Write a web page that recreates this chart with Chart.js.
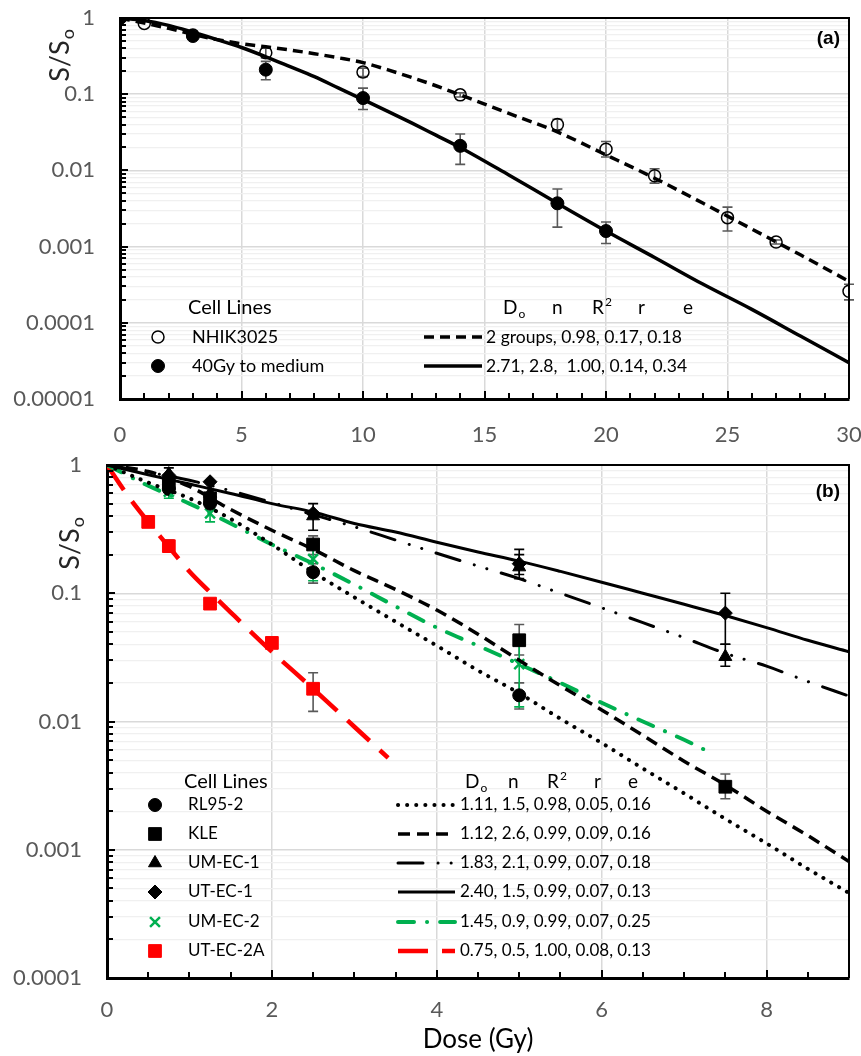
<!DOCTYPE html>
<html>
<head>
<meta charset="utf-8">
<script src="https://cdn.jsdelivr.net/npm/chart.js@4.4.0/dist/chart.umd.min.js"></script>
<style>
  html, body { margin: 0; padding: 0; background: #fff; }
  canvas { display: block; }
</style>
</head>
<body>
<canvas id="chartA" width="861" height="455"></canvas>
<canvas id="chartB" width="861" height="601"></canvas>
<script>
const FONT = 'Lato, "Open Sans", sans-serif'

// ---------- panel (a)
const A_X_TICKS = [0, 5, 10, 15, 20, 25, 30]
const A_Y_TICKS = [1, 0.1, 0.01, 0.001, 0.0001, 0.00001]
const A_Y_LABELS = ['1', '0.1', '0.01', '0.001', '0.0001', '0.00001']

const A_SERIES = ['NHIK3025', '40Gy to medium']
const A_PARAMS = ['2 groups, 0.98, 0.17, 0.18', '2.71, 2.8,  1.00, 0.14, 0.34']

const A_NHIK_DOSE = [0, 1, 3, 6, 10, 14, 18, 20, 22, 25, 27, 30]
const A_NHIK_SF = [1, 0.85, 0.6, 0.35, 0.195, 0.098, 0.04, 0.019, 0.0085, 0.0024, 0.00115, 0.00026]
const A_NHIK_LO = [null, null, null, 0.3, 0.17, 0.092, 0.034, 0.015, 0.0068, 0.0016, 0.00108, 0.0002]
const A_NHIK_HI = [null, null, null, 0.4, 0.22, 0.104, 0.047, 0.024, 0.0105, 0.0033, 0.00122, 0.00032]

const A_MED_DOSE = [0, 3, 6, 10, 14, 18, 20]
const A_MED_SF = [1, 0.58, 0.21, 0.089, 0.021, 0.0037, 0.0016]
const A_MED_LO = [null, 0.54, 0.155, 0.063, 0.012, 0.0018, 0.0011]
const A_MED_HI = [null, 0.63, 0.27, 0.12, 0.03, 0.0057, 0.0021]

const A_FIT_DOSE = [0, 1, 2, 3, 4, 5, 6, 7, 8, 9, 10, 11, 12, 13, 14, 16, 18, 20, 22, 24, 26, 28, 30]
const A_FIT_NHIK = [1, 0.86, 0.73, 0.61, 0.52, 0.46, 0.42, 0.38, 0.34, 0.3, 0.26, 0.21, 0.166, 0.129, 0.098,
  0.056, 0.032, 0.016, 0.0079, 0.0037, 0.0017, 0.00078, 0.00035]
const A_FIT_MED = [1, 0.93, 0.8, 0.65, 0.52, 0.41, 0.31, 0.23, 0.17, 0.12, 0.085, 0.06, 0.042, 0.029, 0.02,
  0.0087, 0.0037, 0.0016, 0.00072, 0.00032, 0.00015, 0.000067, 0.00003]

// ---------- panel (b)
const B_X_TICKS = [0, 2, 4, 6, 8]
const B_Y_TICKS = [1, 0.1, 0.01, 0.001, 0.0001]
const B_Y_LABELS = ['1', '0.1', '0.01', '0.001', '0.0001']

const B_SERIES = ['RL95-2', 'KLE', 'UM-EC-1', 'UT-EC-1', 'UM-EC-2', 'UT-EC-2A']
const B_PARAMS = [
  '1.11, 1.5, 0.98, 0.05, 0.16',
  '1.12, 2.6, 0.99, 0.09, 0.16',
  '1.83, 2.1, 0.99, 0.07, 0.18',
  '2.40, 1.5, 0.99, 0.07, 0.13',
  '1.45, 0.9, 0.99, 0.07, 0.25',
  '0.75, 0.5, 1.00, 0.08, 0.13',
]

const B_RL_DOSE = [0, 0.75, 1.25, 2.5, 5]
const B_RL_SF = [1, 0.65, 0.5, 0.146, 0.016]
const B_RL_LO = [null, null, null, 0.12, 0.0125]
const B_RL_HI = [null, null, null, 0.17, 0.02]

const B_KLE_DOSE = [0, 0.75, 1.25, 2.5, 5, 7.5]
const B_KLE_SF = [1, 0.72, 0.55, 0.24, 0.043, 0.0031]
const B_KLE_LO = [null, null, null, 0.2, 0.033, 0.0025]
const B_KLE_HI = [null, null, null, 0.28, 0.057, 0.0039]

const B_UM1_DOSE = [0, 0.75, 1.25, 2.5, 5, 7.5]
const B_UM1_SF = [1, 0.85, 0.6, 0.4, 0.16, 0.032]
const B_UM1_LO = [null, 0.75, null, 0.31, 0.13, 0.027]
const B_UM1_HI = [null, 0.95, null, 0.5, 0.22, 0.04]

const B_UT1_DOSE = [0, 0.75, 1.25, 2.5, 5, 7.5]
const B_UT1_SF = [1, 0.83, 0.74, 0.42, 0.17, 0.07]
const B_UT1_LO = [null, null, null, null, 0.14, 0.04]
const B_UT1_HI = [null, null, null, null, 0.2, 0.1]

const B_UM2_DOSE = [0, 0.75, 1.25, 2.5, 5]
const B_UM2_SF = [1, 0.62, 0.42, 0.185, 0.028]
const B_UM2_LO = [null, 0.55, 0.36, 0.125, 0.013]
const B_UM2_HI = [null, 0.7, 0.5, 0.26, 0.043]

const B_UT2_DOSE = [0, 0.5, 0.75, 1.25, 2, 2.5]
const B_UT2_SF = [1, 0.36, 0.233, 0.083, 0.041, 0.018]
const B_UT2_LO = [null, 0.33, 0.21, 0.075, 0.038, 0.012]
const B_UT2_HI = [null, 0.39, 0.26, 0.09, 0.044, 0.024]

const B_FIT_DOSE = [0, 0.5, 1, 1.5, 2, 2.5, 3, 3.5, 4, 4.5, 5, 5.5, 6, 6.5, 7, 7.5, 8, 8.5, 9]
const B_FIT_RL = [1, 0.73, 0.55, 0.38, 0.24, 0.146, 0.093, 0.06, 0.039, 0.025, 0.0166, 0.0105, 0.0068,
  0.0043, 0.00275, 0.00174, 0.00112, 0.00071, 0.00046]
const B_FIT_KLE = [1, 0.89, 0.68, 0.45, 0.31, 0.22, 0.15, 0.107, 0.074, 0.048, 0.03, 0.019, 0.0123,
  0.0078, 0.0049, 0.0032, 0.002, 0.00129, 0.00081]
const B_FIT_UM1 = [1, 0.88, 0.76, 0.63, 0.51, 0.41, 0.33, 0.26, 0.205, 0.163, 0.13, 0.1, 0.077,
  0.059, 0.045, 0.034, 0.027, 0.0205, 0.0158]
const B_FIT_UT1 = [1, 0.84, 0.71, 0.6, 0.5, 0.43, 0.35, 0.3, 0.25, 0.21, 0.178, 0.148, 0.122,
  0.1, 0.082, 0.067, 0.054, 0.043, 0.035]
const B_FIT_UM2_DOSE = [0, 0.5, 1, 1.5, 2, 2.5, 3, 3.5, 4, 4.5, 5, 5.5, 6, 6.5, 7, 7.35]
const B_FIT_UM2 = [1, 0.69, 0.5, 0.35, 0.24, 0.17, 0.117, 0.079, 0.054, 0.039, 0.028, 0.02, 0.014,
  0.01, 0.0072, 0.0056]
const B_FIT_UT2_DOSE = [0, 0.25, 0.5, 0.75, 1, 1.25, 1.5, 2, 2.5, 3, 3.41]
const B_FIT_UT2 = [1, 0.58, 0.36, 0.23, 0.148, 0.102, 0.071, 0.035, 0.018, 0.0091, 0.0052]

// ---------- helpers
const pts = (xs, ys) => xs.map((x, i) => ({x, y: ys[i]}))
const isDecade = v => Math.abs(Math.log10(v) - Math.round(Math.log10(v))) < 1e-6

function logTicks(min, max) {
  const out = []
  for (let e = Math.round(Math.log10(min)); e <= Math.round(Math.log10(max)); e++) {
    for (let m = 1; m <= 9; m++) {
      const v = m * Math.pow(10, e)
      if (v > max * 1.0001) break
      out.push(v)
    }
  }
  return out
}

function fitLine(data, color, width, dash, cap) {
  return {
    data, showLine: true, pointRadius: 0, pointHoverRadius: 0,
    borderColor: color, borderWidth: width, borderDash: dash || [],
    borderCapStyle: cap || 'butt', cubicInterpolationMode: 'monotone', fill: false,
  }
}

function marker(data, style, radius, fill, stroke, bw, lo, hi, errColor) {
  return {
    data, showLine: false, pointStyle: style, pointRadius: radius, pointHoverRadius: radius,
    pointBackgroundColor: fill, pointBorderColor: stroke, pointBorderWidth: bw,
    backgroundColor: fill, borderColor: stroke, errLo: lo, errHi: hi, errColor: errColor || '#595959',
  }
}

// keep the plot area where the layout padding puts it
const noOverhang = ax => { ax.paddingTop = 0; ax.paddingBottom = 0; ax.paddingLeft = 0; ax.paddingRight = 0 }

function scales(xMax, xTicks, yMin, yTicks, yLabels, yWidth, xHeight, xPad) {
  return {
    x: {
      type: 'linear', min: 0, max: xMax,
      afterBuildTicks: ax => { ax.ticks = xTicks.map(v => ({value: v})) },
      afterFit: ax => { ax.height = xHeight; noOverhang(ax) },
      ticks: {autoSkip: false, maxRotation: 0, padding: xPad, color: '#595959', font: {family: FONT, size: 22}},
      grid: {drawTicks: false, color: '#d9d9d9', lineWidth: 1.5},
      border: {color: '#000', width: 3},
    },
    y: {
      type: 'logarithmic', min: yMin, max: 1,
      afterBuildTicks: ax => { ax.ticks = logTicks(yMin, 1).map(v => ({value: v})) },
      afterFit: ax => { ax.width = yWidth; noOverhang(ax) },
      ticks: {
        autoSkip: false, padding: 25, color: '#595959', font: {family: FONT, size: 22},
        callback: v => {
          const i = yTicks.findIndex(t => Math.abs(Math.log10(t) - Math.log10(v)) < 1e-6)
          return i >= 0 ? yLabels[i] : ''
        },
      },
      grid: {
        drawTicks: false,
        color: c => (isDecade(c.tick.value) ? '#d9d9d9' : '#f0f0f0'),
        lineWidth: c => (isDecade(c.tick.value) ? 1.5 : 1.2),
      },
      border: {color: '#000', width: 3},
    },
  }
}

// error bars drawn with the chart's own scales
const errorBars = {
  id: 'errorBars',
  beforeDatasetsDraw(chart) {
    const {ctx, scales: {x, y}} = chart
    chart.data.datasets.forEach(ds => {
      if (!ds.errLo) return
      ctx.save()
      ctx.strokeStyle = ds.errColor
      ctx.lineWidth = 1.6
      ds.data.forEach((p, i) => {
        const lo = ds.errLo[i], hi = ds.errHi[i]
        if (lo == null) return
        const px = x.getPixelForValue(p.x)
        const y1 = y.getPixelForValue(lo), y2 = y.getPixelForValue(hi)
        ctx.beginPath()
        ctx.moveTo(px, y1); ctx.lineTo(px, y2)
        ctx.moveTo(px - 5, y1); ctx.lineTo(px + 5, y1)
        ctx.moveTo(px - 5, y2); ctx.lineTo(px + 5, y2)
        ctx.stroke()
      })
      ctx.restore()
    })
  },
}

function textWithScript(ctx, x, y, base, script, size, sup) {
  ctx.font = `${size}px ${FONT}`
  ctx.fillText(base, x, y)
  const w = ctx.measureText(base).width
  ctx.font = `${Math.round(size * 0.65)}px ${FONT}`
  ctx.fillText(script, x + w + 1, sup ? y - size * 0.32 : y + size * 0.3)
}

function decor(cfg) {
  return {
    id: 'decor',
    afterDraw(chart) {
      const {ctx, chartArea: a, scales: {x, y}} = chart
      const H = Chart.helpers
      ctx.save()
      // frame top/right
      ctx.strokeStyle = '#000'
      ctx.lineWidth = 2
      ctx.beginPath()
      ctx.moveTo(a.left, a.top); ctx.lineTo(a.right, a.top); ctx.lineTo(a.right, a.bottom)
      ctx.stroke()
      // inward tick marks
      ctx.lineWidth = 2
      ctx.beginPath()
      y.ticks.forEach(t => {
        const py = Math.round(y.getPixelForValue(t.value))
        ctx.moveTo(a.left, py); ctx.lineTo(a.left + (isDecade(t.value) ? 8 : 6), py)
      })
      for (let v = 0; v <= x.max + 1e-9; v += cfg.xMinor) {
        const px = Math.round(x.getPixelForValue(v))
        const major = cfg.xTicks.some(t => Math.abs(t - v) < 1e-9)
        ctx.moveTo(px, a.bottom); ctx.lineTo(px, a.bottom - (major ? 8 : 6))
      }
      ctx.stroke()

      // y title S/So
      ctx.fillStyle = '#262626'
      ctx.textBaseline = 'middle'
      ctx.save()
      ctx.translate(cfg.yTitle[0], cfg.yTitle[1])
      ctx.rotate(-Math.PI / 2)
      ctx.font = `27px ${FONT}`
      const w1 = ctx.measureText('S/S').width
      ctx.font = `18px ${FONT}`
      const w2 = ctx.measureText('o').width
      ctx.textAlign = 'left'
      textWithScript(ctx, -(w1 + w2) / 2, 0, 'S/S', 'o', 27, false)
      ctx.restore()

      // x title
      if (cfg.xTitle) {
        ctx.font = `26px ${FONT}`
        ctx.textAlign = 'center'
        ctx.fillStyle = '#000'
        ctx.fillText(cfg.xTitle.text, (a.left + a.right) / 2, cfg.xTitle.y)
      }

      // panel label
      ctx.font = 'bold 19px "Liberation Sans", Arial, sans-serif'
      ctx.textAlign = 'right'
      ctx.fillStyle = '#000'
      ctx.fillText(cfg.panel, a.right - 9, a.top + cfg.panelDy)

      // legend
      const L = cfg.legend
      ctx.textAlign = 'left'
      ctx.fillStyle = '#000'
      ctx.font = `${L.titleSize}px ${FONT}`
      ctx.fillText('Cell Lines', L.nameX - 4, L.headY)
      const hx = L.headX
      textWithScript(ctx, hx[0], L.headY, 'D', 'o', L.headSize, false)
      ctx.font = `${L.headSize}px ${FONT}`
      ctx.fillText('n', hx[1], L.headY)
      textWithScript(ctx, hx[2], L.headY, 'R', '2', L.headSize, true)
      ctx.font = `${L.headSize}px ${FONT}`
      ctx.fillText('r', hx[3], L.headY)
      ctx.fillText('e', hx[4], L.headY)

      L.rows.forEach((r, i) => {
        const yy = L.rowY[i]
        const mk = chart.data.datasets[r.marker]
        ctx.save()
        ctx.fillStyle = mk.pointBackgroundColor
        ctx.strokeStyle = mk.pointBorderColor
        ctx.lineWidth = mk.pointBorderWidth
        H.drawPoint(ctx, {pointStyle: mk.pointStyle, radius: mk.pointRadius, rotation: 0,
          borderWidth: mk.pointBorderWidth}, L.markX, yy)
        ctx.restore()
        ctx.fillStyle = '#000'
        ctx.font = `${L.nameSize}px ${FONT}`
        ctx.fillText(r.name, L.nameX, yy)
        const ln = chart.data.datasets[r.line]
        ctx.save()
        ctx.strokeStyle = ln.borderColor
        ctx.lineWidth = ln.borderWidth
        ctx.lineCap = ln.borderCapStyle
        ctx.setLineDash(ln.borderDash)
        ctx.beginPath()
        ctx.moveTo(L.lineX[0], yy); ctx.lineTo(L.lineX[1], yy)
        ctx.stroke()
        ctx.restore()
        ctx.font = `${L.paramSize}px ${FONT}`
        ctx.fillText(r.param, L.paramX, yy)
      })
      ctx.restore()
    },
  }
}

// ---------- chart (a)
new Chart(document.getElementById('chartA'), {
  type: 'scatter',
  data: {
    datasets: [
      fitLine(pts(A_FIT_DOSE, A_FIT_NHIK), '#000', 3.5, [10, 6]),
      fitLine(pts(A_FIT_DOSE, A_FIT_MED), '#000', 3.5),
      marker(pts(A_NHIK_DOSE, A_NHIK_SF), 'circle', 6, 'rgba(255,255,255,0)', '#000', 1.5, A_NHIK_LO, A_NHIK_HI),
      marker(pts(A_MED_DOSE, A_MED_SF), 'circle', 6.5, '#000', '#000', 1, A_MED_LO, A_MED_HI),
    ],
  },
  options: {
    responsive: false, animation: false, devicePixelRatio: 1,
    layout: {padding: {top: 18, right: 12, left: 0, bottom: 0}},
    plugins: {legend: {display: false}, tooltip: {enabled: false}},
    scales: scales(30, A_X_TICKS, 0.00001, A_Y_TICKS, A_Y_LABELS, 120, 56, 23),
  },
  plugins: [errorBars, decor({
    xMinor: 1, xTicks: A_X_TICKS, yTitle: [60, 56], panel: '(a)', panelDy: 21,
    legend: {
      titleSize: 20, nameSize: 18, headSize: 19, paramSize: 17.5,
      headY: 308, headX: [503, 552, 592, 638, 683],
      markX: 158, nameX: 192, lineX: [424, 482], paramX: 486,
      rowY: [337, 366],
      rows: [
        {marker: 2, line: 0, name: A_SERIES[0], param: A_PARAMS[0]},
        {marker: 3, line: 1, name: A_SERIES[1], param: A_PARAMS[1]},
      ],
    },
  })],
})

// ---------- chart (b)
const GREEN = '#00b050'
const RED = '#ff0000'
new Chart(document.getElementById('chartB'), {
  type: 'scatter',
  data: {
    datasets: [
      fitLine(pts(B_FIT_DOSE, B_FIT_RL), '#000', 4, [0.1, 9], 'round'),
      fitLine(pts(B_FIT_DOSE, B_FIT_KLE), '#000', 3.5, [12, 7]),
      fitLine(pts(B_FIT_DOSE, B_FIT_UM1), '#000', 3, [25, 15, 0.1, 13, 0.1, 15], 'round'),
      fitLine(pts(B_FIT_DOSE, B_FIT_UT1), '#000', 3),
      fitLine(pts(B_FIT_UM2_DOSE, B_FIT_UM2), GREEN, 4, [16, 13, 0.1, 13], 'round'),
      fitLine(pts(B_FIT_UT2_DOSE, B_FIT_UT2), RED, 4.5, [30, 14]),
      marker(pts(B_RL_DOSE, B_RL_SF), 'circle', 6.5, '#000', '#000', 1, B_RL_LO, B_RL_HI),
      marker(pts(B_KLE_DOSE, B_KLE_SF), 'rect', 9, '#000', '#000', 1, B_KLE_LO, B_KLE_HI),
      marker(pts(B_UM1_DOSE, B_UM1_SF), 'triangle', 7.5, '#000', '#000', 1, B_UM1_LO, B_UM1_HI, '#000'),
      marker(pts(B_UT1_DOSE, B_UT1_SF), 'rectRot', 7, '#000', '#000', 1, B_UT1_LO, B_UT1_HI, '#000'),
      marker(pts(B_UM2_DOSE, B_UM2_SF), 'crossRot', 7, GREEN, GREEN, 2.5, B_UM2_LO, B_UM2_HI, GREEN),
      marker(pts(B_UT2_DOSE, B_UT2_SF), 'rect', 9, RED, RED, 1, B_UT2_LO, B_UT2_HI, '#595959'),
    ],
  },
  options: {
    responsive: false, animation: false, devicePixelRatio: 1,
    layout: {padding: {top: 10, right: 12, left: 0, bottom: 0}},
    plugins: {legend: {display: false}, tooltip: {enabled: false}},
    scales: scales(9, B_X_TICKS, 0.0001, B_Y_TICKS, B_Y_LABELS, 107, 78, 19),
  },
  plugins: [errorBars, decor({
    xMinor: 0.5, xTicks: B_X_TICKS, yTitle: [70, 89], panel: '(b)', panelDy: 27,
    xTitle: {text: 'Dose (Gy)', y: 585},
    legend: {
      titleSize: 20, nameSize: 17, headSize: 19, paramSize: 17,
      headY: 327, headX: [465, 508, 547, 594, 628],
      markX: 155, nameX: 188, lineX: [398, 455], paramX: 460,
      rowY: [350, 379, 408, 437, 467, 496],
      rows: B_SERIES.map((name, i) => ({marker: 6 + i, line: i, name, param: B_PARAMS[i]})),
    },
  })],
})
</script>
</body>
</html>
